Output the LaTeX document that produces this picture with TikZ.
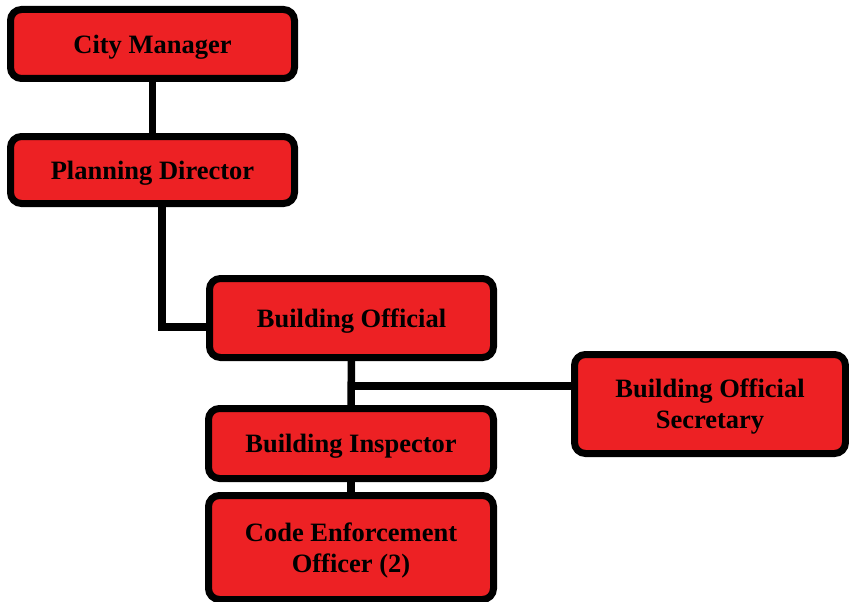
\documentclass[tikz,border=0pt]{standalone}
\usepackage{fontspec}
\setmainfont{Liberation Serif}
\usepackage{tikz}
\usetikzlibrary{positioning}

\definecolor{chartred}{RGB}{237,33,36}

\begin{document}
\begin{tikzpicture}[x=1pt, y=-1pt,
  post/.style={draw, line width=7pt, rounded corners=11pt, fill=chartred, minimum width=284pt, inner sep=0pt, text depth=0pt, align=center, font=\fontsize{26.5}{31}\selectfont\bfseries},
  link/.style={line width=7.5pt}]
\useasboundingbox (0,0) rectangle (849,602);

% positions in the chart
\node[post, minimum height=69pt] (Manager) at (152.5,44) {City Manager};
\node[post, minimum height=67pt] (Planning) at (152.5,170) {Planning Director};
\node[post, minimum height=79pt] (Official) at (351.5,318) {Building Official};
\node[post, minimum width=271pt, minimum height=99pt] (Secretary) at (710,404) {Building Official\\Secretary};
\node[post, minimum width=285pt, minimum height=70pt] (Inspector) at (351,443.5) {Building Inspector};
\node[post, minimum width=285pt, minimum height=104pt] (Enforcement) at (351,547.5) {Code Enforcement\\Officer (2)};

% reporting lines
\draw[link] (Manager) -- (Planning);
\draw[link] ([xshift=9.5pt]Planning.south) |- ([yshift=-9pt]Official.west);
\draw[link] (Official) -- (Inspector);
\coordinate[below=25pt of Official.south] (split);
\draw[link] (split) -- (split -| Secretary.west);
\draw[link] (Inspector) -- (Enforcement);
\end{tikzpicture}
\end{document}
